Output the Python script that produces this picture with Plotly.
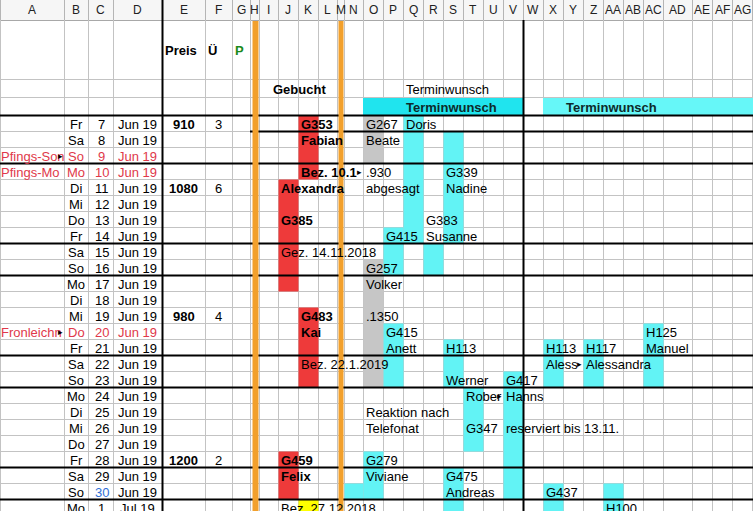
import plotly.graph_objects as go

# ---------------- data (cell contents) ----------------
COLUMN_LETTERS = ["A", "B", "C", "D", "E", "F", "G", "H", "I", "J", "K", "L", "M", "N", "O", "P",
                  "Q", "R", "S", "T", "U", "V", "W", "X", "Y", "Z", "AA", "AB", "AC", "AD", "AE", "AF", "AG"]

WEEKDAYS = ["Fr", "Sa", "So", "Mo", "Di", "Mi", "Do", "Fr", "Sa", "So", "Mo", "Di", "Mi",
            "Do", "Fr", "Sa", "So", "Mo", "Di", "Mi", "Do", "Fr", "Sa", "So", "Mo"]
DAY_NUMBERS = [7, 8, 9, 10, 11, 12, 13, 14, 15, 16, 17, 18, 19,
               20, 21, 22, 23, 24, 25, 26, 27, 28, 29, 30, 1]
MONTH_LABELS = ["Jun 19"] * 24 + ["Jul 19"]

HOLIDAY_ROWS = [2, 3, 13]
HOLIDAY_NAMES = ["Pfings-Son", "Pfings-Mo", "Fronleichn"]
BLUE_DAY_ROWS = [23]

PRICE_ROWS = [0, 4, 12, 21]
PRICES = [910, 1080, 980, 1200]
NIGHTS = [3, 6, 4, 2]

HEADER_LABELS = ["Preis", "Ü", "P"]
HEADER_LABEL_COLS = ["E", "F", "G"]

# (column, first row, last row, kind)
FILL_BLOCKS = [
    ("K", 0, 3, "booked"), ("J", 4, 10, "booked"), ("K", 12, 16, "booked"),
    ("J", 21, 23, "booked"), ("K", 24, 24, "paid"),
    ("O", 0, 2, "cancelled"), ("O", 9, 16, "cancelled"),
    ("Q", 0, 7, "request"), ("S", 1, 7, "request"), ("P", 7, 9, "request"),
    ("R", 8, 9, "request"), ("P", 13, 16, "request"), ("S", 14, 16, "request"),
    ("T", 17, 20, "request"), ("V", 16, 23, "request"), ("O", 21, 23, "request"),
    ("N", 23, 23, "request"), ("S", 22, 24, "request"), ("X", 14, 16, "request"),
    ("Z", 14, 16, "request"), ("AC", 13, 16, "request"), ("X", 23, 24, "request"),
    ("AA", 23, 24, "request"),
]

# (column, row, text, bold)
NOTES = [
    ("K", 0, "G353", True), ("O", 0, "G267", False), ("Q", 0, "Doris", False),
    ("K", 1, "Fabian", True), ("O", 1, "Beate", False),
    ("K", 3, "Bez. 10.1", True), ("O", 3, ".930", False), ("S", 3, "G339", False),
    ("J", 4, "Alexandra", True), ("O", 4, "abgesagt", False), ("S", 4, "Nadine", False),
    ("J", 6, "G385", True), ("R", 6, "G383", False),
    ("P", 7, "G415", False), ("R", 7, "Susanne", False),
    ("J", 8, "Gez. 14.11.2018", False),
    ("O", 9, "G257", False), ("O", 10, "Volker", False),
    ("K", 12, "G483", True), ("O", 12, ".1350", False),
    ("K", 13, "Kai", True), ("P", 13, "G415", False), ("AC", 13, "H125", False),
    ("P", 14, "Anett", False), ("S", 14, "H113", False), ("X", 14, "H113", False),
    ("Z", 14, "H117", False), ("AC", 14, "Manuel", False),
    ("K", 15, "Bez. 22.1.2019", False), ("X", 15, "Aless", False), ("Z", 15, "Alessandra", False),
    ("S", 16, "Werner", False), ("V", 16, "G417", False),
    ("T", 17, "Rober", False), ("V", 17, "Hanns", False),
    ("O", 18, "Reaktion nach", False),
    ("O", 19, "Telefonat", False), ("T", 19, "G347", False), ("V", 19, "reserviert bis 13.11.", False),
    ("J", 21, "G459", True), ("O", 21, "G279", False),
    ("J", 22, "Felix", True), ("O", 22, "Viviane", False), ("S", 22, "G475", False),
    ("S", 23, "Andreas", False), ("X", 23, "G437", False),
    ("J", 24, "Bez. 27.12.2018", False), ("AA", 24, "H100", False),
]
# cells whose text is cut off by the next cell (column where the overflow mark sits, row)
OVERFLOW_MARKS = [("A", 2), ("A", 13), ("N", 3), ("Y", 15), ("U", 17)]

# thick borders above these data rows
THICK_FULL_ROWS = [0, 3, 8, 10, 15, 17, 22, 24]
THICK_PARTIAL_ROWS = [1]

# ---------------- layout / geometry ----------------
W, H = 753, 511
COLUMN_EDGES = [0, 64, 88, 113, 162, 205, 232, 250, 259, 278, 298, 318, 337, 344, 363, 383, 403,
                423, 443, 463, 483, 503, 523, 543, 563, 583, 603, 623, 643, 663, 692, 712, 732, 752]
HEADER_BOTTOM = 20
TOP_ROW_EDGES = [20, 79, 97, 115]
DATA_TOP = 115
ROW_H = 16
N_ROWS = len(WEEKDAYS)

FONT = "Liberation Sans, Arial, sans-serif"
GRID = "#c3c3c3"
COLORS = {"booked": "#ee3a3a", "paid": "#ffff00", "cancelled": "#c6c6c6", "request": "#62f3f5"}
RED_TEXT = "#e0384a"
ORANGE = "#f2a02c"


def col(letter):
    i = COLUMN_LETTERS.index(letter)
    return COLUMN_EDGES[i], COLUMN_EDGES[i + 1]


def row(r):
    return DATA_TOP + r * ROW_H, DATA_TOP + (r + 1) * ROW_H


shapes = []
annotations = []


def rect(x0, y0, x1, y1, color):
    shapes.append(dict(type="rect", xref="x", yref="y", x0=x0, x1=x1, y0=y0, y1=y1,
                       fillcolor=color, line=dict(width=0), layer="above"))


def line(x0, y0, x1, y1, color, width=1):
    shapes.append(dict(type="line", xref="x", yref="y", x0=x0, x1=x1, y0=y0, y1=y1,
                       line=dict(color=color, width=width), layer="above"))


def text(x, y, s, anchor="left", size=13, color="#000000", bold=False):
    if bold:
        s = "<b>" + s + "</b>"
    annotations.append(dict(x=x, y=y, xref="x", yref="y", text=s, showarrow=False,
                            xanchor=anchor, yanchor="middle", borderpad=0,
                            font=dict(family=FONT, size=size, color=color)))


# header band
rect(0, 0, W, HEADER_BOTTOM, "#f6f6f6")
for e in COLUMN_EDGES:
    line(e + 0.5, 0, e + 0.5, HEADER_BOTTOM, "#b5b5b5")
line(0, HEADER_BOTTOM + 0.5, W, HEADER_BOTTOM + 0.5, "#a8a8a8")
for i, letter in enumerate(COLUMN_LETTERS):
    text((COLUMN_EDGES[i] + COLUMN_EDGES[i + 1]) / 2, 10, letter, anchor="center", size=12, color="#222222")

# grid
for e in COLUMN_EDGES:
    line(e + 0.5, HEADER_BOTTOM, e + 0.5, H, GRID)
for y in TOP_ROW_EDGES[1:]:
    line(0, y + 0.5, W, y + 0.5, GRID)
for r in range(N_ROWS):
    y = row(r)[1]
    line(0, y + 0.5, W, y + 0.5, GRID)

# header fills
o0, _ = col("O")
_, v1 = col("V")
x0, _ = col("X")
_, ag1 = col("AG")
rect(o0, TOP_ROW_EDGES[2] + 1, v1, TOP_ROW_EDGES[3], "#20e4ee")
rect(x0, TOP_ROW_EDGES[2] + 1, ag1 + 2, TOP_ROW_EDGES[3], "#66f7f8")

# cell fills
for c, r0, r1, kind in FILL_BLOCKS:
    cx0, cx1 = col(c)
    y0 = row(r0)[0]
    y1 = row(r1)[1]
    rect(cx0 + 0.5, y0 + 0.5, cx1 + 0.5, y1 + 0.5, COLORS[kind])

# thick borders
for r in THICK_FULL_ROWS:
    y = row(r)[0]
    line(0, y + 0.5, W, y + 0.5, "#000000", 2)
for r in THICK_PARTIAL_ROWS:
    y = row(r)[0]
    line(col("H")[0], y + 0.5, W, y + 0.5, "#000000", 2)
line(col("E")[0] + 0.5, 0, col("E")[0] + 0.5, H, "#000000", 2)
line(col("W")[0] + 0.5, HEADER_BOTTOM, col("W")[0] + 0.5, H, "#000000", 2)

# orange separators
hx0, hx1 = col("H")
mx0, mx1 = col("M")
rect(hx0 + 2.5, HEADER_BOTTOM + 1, hx1 - 0.5, H, ORANGE)
rect(mx0 + 1.5, HEADER_BOTTOM + 1, mx1 - 0.5, H, ORANGE)

# header texts
ty = (TOP_ROW_EDGES[0] + TOP_ROW_EDGES[1]) / 2 + 1
for lab, c in zip(HEADER_LABELS, HEADER_LABEL_COLS):
    text(col(c)[0] + 2, ty, lab, bold=True, color="#1a8a1a" if lab == "P" else "#000000")
gy = (TOP_ROW_EDGES[1] + TOP_ROW_EDGES[2]) / 2 + 1
text((col("I")[0] + col("L")[1]) / 2 + 1, gy, "Gebucht", anchor="center", bold=True)
text(col("Q")[0] + 2, gy, "Terminwunsch")
ty3 = (TOP_ROW_EDGES[2] + TOP_ROW_EDGES[3]) / 2 + 1
text(col("Q")[0] + 2, ty3, "Terminwunsch", bold=True, color="#0d2a2a")
text(col("Y")[0] + 2, ty3, "Terminwunsch", bold=True, color="#0d2a2a")

# date columns
for r in range(N_ROWS):
    yc = row(r)[0] + 9.5
    red = r in HOLIDAY_ROWS
    base = RED_TEXT if red else "#000000"
    text(sum(col("B")) / 2, yc, WEEKDAYS[r], anchor="center", color=base)
    dcol = "#2f6fd6" if r in BLUE_DAY_ROWS else base
    text(sum(col("C")) / 2 + 1, yc, str(DAY_NUMBERS[r]), anchor="center", color=dcol)
    text(sum(col("D")) / 2, yc, MONTH_LABELS[r], anchor="center", color=base)

for r, name in zip(HOLIDAY_ROWS, HOLIDAY_NAMES):
    text(0.2, row(r)[0] + 9.5, name, color=RED_TEXT)

for r, p, n in zip(PRICE_ROWS, PRICES, NIGHTS):
    yc = row(r)[0] + 9.5
    text(sum(col("E")) / 2, yc, str(p), anchor="center", bold=True)
    text(sum(col("F")) / 2, yc, str(n), anchor="center")

# notes
for c, r, s, b in NOTES:
    text(col(c)[0] + 2, row(r)[0] + 9.5, s, bold=b)

for c, r in OVERFLOW_MARKS:
    text(col(c)[1] - 0.5, row(r)[0] + 9, "\u25b8", anchor="right", size=9)

fig = go.Figure(go.Scatter(x=[], y=[], hoverinfo="skip"))
fig.update_layout(
    width=W, height=H,
    margin=dict(l=0, r=0, t=0, b=0),
    paper_bgcolor="#ffffff", plot_bgcolor="#ffffff",
    xaxis=dict(range=[0, W], visible=False, fixedrange=True),
    yaxis=dict(range=[H, 0], visible=False, fixedrange=True),
    showlegend=False,
    shapes=shapes,
    annotations=annotations,
)
fig.write_html("out.html", config={"displayModeBar": False, "staticPlot": True},
               post_script="document.body.style.margin='0';document.body.style.overflow='hidden';")
